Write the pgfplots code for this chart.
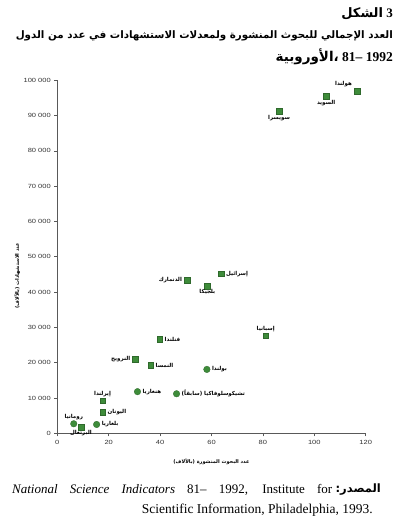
\documentclass[border=0pt]{standalone}
\usepackage{fontspec}
\usepackage{pgfplots}
\pgfplotsset{compat=1.18}
\TeXXeTstate=1
\setmainfont{Liberation Serif}
\newfontfamily\arabicfont[Script=Arabic]{DejaVu Sans}
\newfontfamily\tickfont[FakeStretch=1.25]{Liberation Sans}
\newcommand{\ar}[1]{{\arabicfont\beginR #1\endR}}
\definecolor{mygreen}{RGB}{62,140,58}

\pgfplotsset{
  lab/.style={
    only marks,
    point meta=explicit symbolic,
    nodes near coords={\ar{\pgfplotspointmeta}},
    every node near coord/.append style={anchor=#1, font=\bfseries\fontsize{5.5}{6}\selectfont, inner xsep=5pt, inner ysep=3.5pt, text=black},
  },
  sq/.style={mark=square*, mark size=2.8pt, mark options={fill=mygreen, draw=mygreen!75!black, line width=0.3pt}},
  ci/.style={mark=*, mark size=3.3pt, mark options={fill=mygreen, draw=mygreen!75!black, line width=0.3pt}},
}

\begin{document}
\begin{tikzpicture}[x=1pt,y=1pt]
\path[use as bounding box] (0,0) rectangle (397,522);
\begin{axis}[
  at={(57.3pt,88.7pt)}, anchor=origin,
  scale only axis, width=308.4pt, height=353pt,
  xmin=0, xmax=120, ymin=0, ymax=100000,
  axis x line=bottom, axis y line=left,
  axis line style={-, black!65, line width=0.7pt},
  tick align=outside, major tick length=3pt,
  tick style={black!65, line width=0.6pt},
  scaled y ticks=false, scaled x ticks=false,
  xtick={0,20,40,60,80,100,120},
  xticklabels={0,20,40,60,80,100,120},
  ytick={0,10000,20000,30000,40000,50000,60000,70000,80000,90000,100000},
  yticklabels={0,10 000,20 000,30 000,40 000,50 000,60 000,70 000,80 000,90 000,100 000},
  ticklabel style={font=\tickfont\fontsize{6}{7}\selectfont, text=black!80},
  xlabel={\ar{عدد البحوث المنشورة (بالآلاف)}},
  ylabel={\ar{عدد الاستشهادات (بالآلاف)}},
  every axis x label/.style={at={(axis description cs:0.5,0)}, anchor=center, yshift=-29pt, font=\bfseries\fontsize{5}{6}\selectfont},
  every axis y label/.style={at={(axis description cs:-0.1297,0.446)}, anchor=center, rotate=90, font=\bfseries\fontsize{5}{6}\selectfont},
  clip=false,
]
% squares
\addplot[lab=south east, sq] coordinates {(116.6,97000) [هولندا]};
\addplot[lab=north, sq] coordinates {(104.6,95500) [السويد] (86.3,91200) [سويسرا] (58.4,41700) [بلجيكا] (9.2,1800) [البرتغال]};
\addplot[lab=west, sq] coordinates {(63.7,45200) [إسرائيل] (39.8,26600) [فنلندا] (36.3,19300) [النمسا] (17.6,6000) [اليونان]};
\addplot[lab=east, sq] coordinates {(50.5,43300) [الدنمارك] (30.4,21000) [النرويج]};
\addplot[lab=south, sq] coordinates {(81.1,27700) [إسبانيا] (17.6,9300) [إيرلندا]};
% circles
\addplot[lab=west, ci] coordinates {(58.2,18100) [بولندا] (31.2,11800) [هنغاريا] (46.4,11200) [تشيكوسلوفاكيا (سابقاً)] (15.3,2500) [بلغاريا]};
\addplot[lab=south, ci] coordinates {(6.4,2700) [رومانيا]};
\end{axis}
% title
\node[anchor=east, font=\bfseries\fontsize{13}{15}\selectfont, inner sep=0pt] at (393,508) {{\arabicfont الشكل} 3};
\node[anchor=east, font=\bfseries, inner sep=0pt] at (393,486) {\resizebox{377pt}{!}{\ar{العدد الإجمالي للبحوث المنشورة ولمعدلات الاستشهادات في عدد من الدول}}};
\node[anchor=east, font=\bfseries\fontsize{13.5}{15}\selectfont, inner sep=0pt] at (393,465) {{\arabicfont\beginR الأوروبية\endR،} 81– 1992};
% source
\node[anchor=east, font=\fontsize{11.5}{13}\selectfont, inner sep=0pt] at (381,32) {{\arabicfont\bfseries\beginR المصدر:\endR}};
\node[anchor=west, font=\fontsize{13}{15}\selectfont, inner sep=0pt] at (12,32) {\makebox[320pt][s]{\textit{National Science Indicators} 81– 1992, Institute for}};
\node[anchor=east, font=\fontsize{13.5}{15}\selectfont, inner sep=0pt] at (373,12) {Scientific Information, Philadelphia, 1993.};
\end{tikzpicture}
\end{document}
